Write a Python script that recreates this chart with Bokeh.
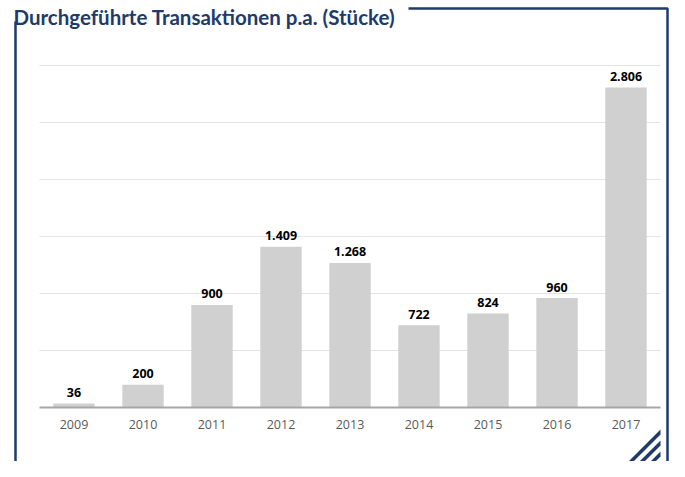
import numpy as np
from bokeh.plotting import figure
from bokeh.models import Range1d, ColumnDataSource
from bokeh.core.properties import value
from bokeh.embed import file_html
from bokeh.resources import INLINE

# ---- data ----
years = ["2009", "2010", "2011", "2012", "2013", "2014", "2015", "2016", "2017"]
transactions = [36, 200, 900, 1409, 1268, 722, 824, 960, 2806]
grid_values = [500, 1000, 1500, 2000, 2500, 3000]
title_text = "Durchgeführte Transaktionen p.a. (Stücke)"

NAVY = "#203a6c"
W, H = 669, 461          # fits the window inside the 8px body margin

# layout in figure pixels
plot_left, plot_right = 39, 660
plot_top, plot_bottom = 65, 407
ymax = 3000
n = len(years)
cat_px = (plot_right - plot_left) / n
px_per_unit = (plot_bottom - plot_top) / ymax

x_start = -0.5 - plot_left / cat_px
x_end = x_start + W / cat_px
y_start = -(H - plot_bottom) / px_per_unit
y_end = ymax + plot_top / px_per_unit

p = figure(width=W, height=H, x_range=Range1d(x_start, x_end),
           y_range=Range1d(y_start, y_end), toolbar_location=None,
           output_backend="svg", min_border=0,
           x_axis_location=None, y_axis_location=None)
p.grid.visible = False
p.outline_line_color = None
p.background_fill_color = "white"
p.border_fill_color = "white"

# pixel range for decorations
p.extra_x_ranges = {"px": Range1d(0, W)}
p.extra_y_ranges = {"px": Range1d(H, 0)}

xs = np.arange(n)
labels = [f"{v:,}".replace(",", ".") for v in transactions]
src = ColumnDataSource(dict(x=xs, year=years, v=transactions, lab=labels))

# gridlines
p.segment(x0=-0.5, x1=n - 0.5, y0=grid_values, y1=grid_values,
          line_color="#e3e3e3", line_width=1)

# bars
p.vbar(x="x", top="v", bottom=0, width=0.6, source=src,
       fill_color="#d0d0d0", line_color=None)

# baseline
p.segment(x0=[-0.5], x1=[n - 0.5], y0=[0], y1=[0],
          line_color="#a6a6a6", line_width=2)

# value labels
p.text(x="x", y="v", text="lab", source=src, text_align="center",
       text_baseline="middle", y_offset=-11,
       text_font=value("Open Sans"), text_font_style="bold",
       text_font_size="12.5px", text_color="black")

# category labels
p.text(x="x", y=0, text="year", source=src, text_align="center",
       text_baseline="middle", y_offset=17,
       text_font=value("Open Sans"), text_font_size="12.5px",
       text_color="#595959")

# decorative frame
p.line(x=[15, 15], y=[21, H], line_color=NAVY, line_width=2.5,
       x_range_name="px", y_range_name="px")
p.line(x=[408, 667, 667], y=[8, 8, H], line_color=NAVY, line_width=2.5,
       x_range_name="px", y_range_name="px")

# title
p.text(x=[13], y=[16], text=[title_text], text_align="left",
       text_baseline="alphabetic", text_font=value("Lato"),
       text_font_style="bold", text_font_size="20.5px", text_color=NAVY,
       x_range_name="px", y_range_name="px")

# corner stripes
stripe_x, stripe_y = [], []
corner_x, corner_y, w = 660, H, 5
for a in [628, 639, 650]:
    stripe_x.append([a, a + w, corner_x, corner_x])
    stripe_y.append([corner_y, corner_y, corner_y - (corner_x - a - w),
                     corner_y - (corner_x - a)])
p.patches(xs=stripe_x, ys=stripe_y, fill_color=NAVY, line_color=None,
          x_range_name="px", y_range_name="px")

open("out.html", "w").write(file_html(p, INLINE))
